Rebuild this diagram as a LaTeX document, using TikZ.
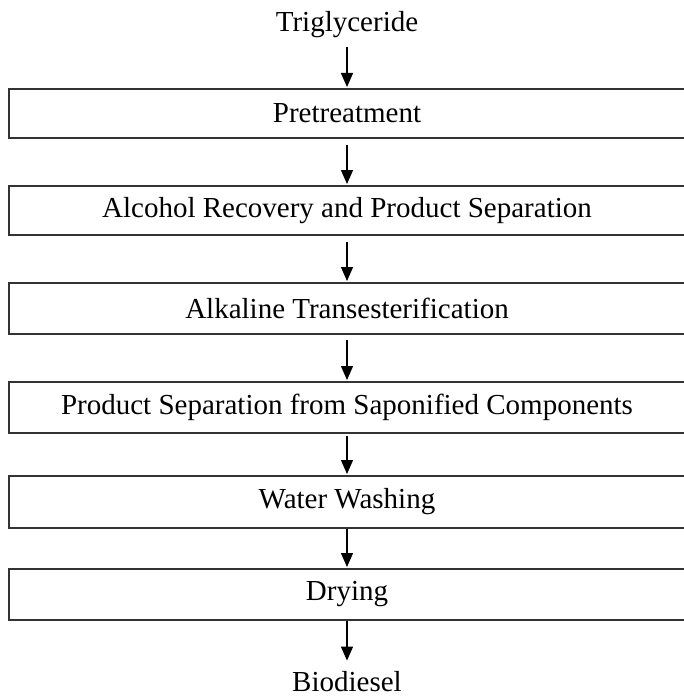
\documentclass[tikz,border=0pt]{standalone}
\usepackage{fontspec}
\setmainfont{Liberation Serif}
\usetikzlibrary{arrows.meta}
\begin{document}
\begin{tikzpicture}[x=1pt,y=-1pt,
  stepbox/.style={draw=black!80, line width=2pt, minimum width=676pt, inner sep=0pt, font=\fontsize{29}{33}\selectfont},
  plain/.style={inner sep=0pt, font=\fontsize{29}{33}\selectfont},
  flow/.style={line width=1.3pt, -{Triangle[length=14pt,width=12pt]}, shorten >=1pt}]
\useasboundingbox (0,0) rectangle (684,698);
\node[plain] (tri) at (347,25) {Triglyceride};
\node[stepbox, minimum height=49pt] (b1) at (347,113.5) {Pretreatment};
\node[stepbox, minimum height=49pt] (b2) at (347,210.5) {Alcohol Recovery and Product Separation};
\node[stepbox, minimum height=51pt] (b3) at (347,308.5) {Alkaline Transesterification};
\node[stepbox, minimum height=51pt] (b4) at (347,407.5) {Product Separation from Saponified Components};
\node[stepbox, minimum height=52pt] (b5) at (347,502) {Water Washing};
\node[stepbox, minimum height=51pt] (b6) at (347,594.5) {Drying};
\node[plain] (bio) at (347,682) {Biodiesel};
\coordinate (a0) at (347,47);
\draw[flow] (a0) -- (b1.north);
\draw[flow] ([yshift=-6pt]b1.south) -- (b2.north);
\draw[flow] ([yshift=-6pt]b2.south) -- (b3.north);
\draw[flow] ([yshift=-5pt]b3.south) -- (b4.north);
\draw[flow] ([yshift=-2pt]b4.south) -- (b5.north);
\draw[flow] (b5.south) -- (b6.north);
\draw[flow] (b6.south) -- ([yshift=10pt]bio.north);
\end{tikzpicture}
\end{document}
